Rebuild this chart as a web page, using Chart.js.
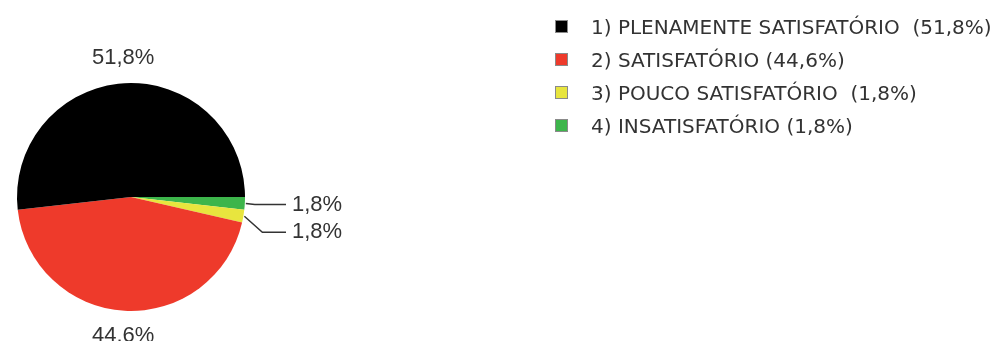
<!DOCTYPE html>
<html>
<head>
<meta charset="utf-8">
<script src="https://cdn.jsdelivr.net/npm/chart.js@4/dist/chart.umd.min.js"></script>
<style>
    html, body { margin: 0; padding: 0; background: #fff; }
    #wrap { position: relative; width: 1000px; height: 341px; }
    #legend { position: absolute; left: 555px; top: 10px; font-family: "DejaVu Sans", sans-serif; font-size: 20px; color: #333; }
    #legend .row { display: flex; align-items: center; height: 33px; white-space: pre; }
    #legend .box { width: 11px; height: 11px; border: 1px solid #8a8a8a; margin-right: 23px; }
</style>
</head>
<body>
<div id="wrap">
    <canvas id="pie" width="1000" height="341"></canvas>
    <div id="legend"></div>
</div>
<script>
// legend order (1..4)
const categories = ['1) PLENAMENTE SATISFATÓRIO  (51,8%)', '2) SATISFATÓRIO (44,6%)', '3) POUCO SATISFATÓRIO  (1,8%)', '4) INSATISFATÓRIO (1,8%)'];
const values = [51.8, 44.6, 1.8, 1.8];
const pieLabels = ['51,8%', '44.6%', '1,8%', '1,8%'];
const colors = ['#000000', '#ee3a2b', '#e8e53e', '#3db54b'];

// the original pie runs counter-clockwise from 3 o'clock; Chart.js goes clockwise,
// so the slices are fed in reverse order
const order = [3, 2, 1, 0];

const legendEl = document.getElementById('legend');
categories.forEach((c, i) => {
    const row = document.createElement('div');
    row.className = 'row';
    const box = document.createElement('span');
    box.className = 'box';
    box.style.background = colors[i];
    row.appendChild(box);
    row.appendChild(document.createTextNode(c));
    legendEl.appendChild(row);
});

const labelPlugin = {
    id: 'pieLabels',
    afterDraw(chart) {
        const ctx = chart.ctx;
        const arcs = chart.getDatasetMeta(0).data;
        ctx.save();
        ctx.font = '22px "Liberation Sans", Arial, sans-serif';
        ctx.fillStyle = '#333';
        ctx.strokeStyle = '#333';
        ctx.lineWidth = 1.5;
        ctx.textBaseline = 'middle';
        let smallCount = 0;
        arcs.forEach((arc, k) => {
            const i = order[k];
            const mid = (arc.startAngle + arc.endAngle) / 2;
            const r = arc.outerRadius;
            const cx = arc.x, cy = arc.y;
            if (values[i] > 5) {
                ctx.textAlign = 'center';
                ctx.fillText(pieLabels[i], cx + Math.cos(mid) * (r + 25), cy + Math.sin(mid) * (r + 25));
            } else {
                const ex = cx + Math.cos(mid) * r;
                const ey = cy + Math.sin(mid) * r;
                const ty = smallCount === 0 ? ey + 1 : ey + 16;
                const elbowX = smallCount === 0 ? ex + 10 : ex + 19;
                ctx.beginPath();
                ctx.moveTo(ex + 1, ey);
                ctx.lineTo(elbowX, ty);
                ctx.lineTo(cx + r + 41, ty);
                ctx.stroke();
                ctx.textAlign = 'left';
                ctx.fillText(pieLabels[i], cx + r + 47, ty);
                smallCount++;
            }
        });
        ctx.restore();
    }
};

new Chart(document.getElementById('pie'), {
    type: 'pie',
    data: {
        labels: order.map(i => categories[i]),
        datasets: [{
            data: order.map(i => values[i]),
            backgroundColor: order.map(i => colors[i]),
            borderWidth: 0
        }]
    },
    options: {
        responsive: false,
        animation: false,
        rotation: 90,
        layout: { padding: { left: 17, top: 83, right: 755, bottom: 30 } },
        plugins: {
            legend: { display: false },
            tooltip: { enabled: false }
        }
    },
    plugins: [labelPlugin]
});
</script>
</body>
</html>
